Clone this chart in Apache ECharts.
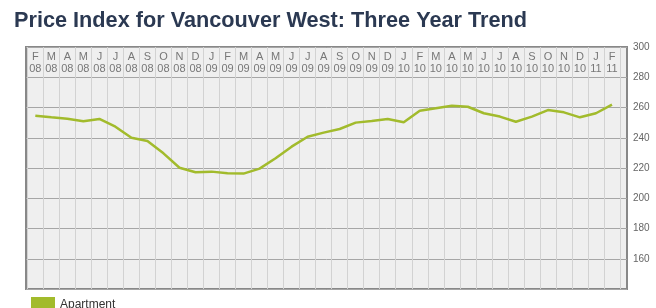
<!DOCTYPE html>
<html>
<head>
<meta charset="utf-8">
<script src="https://cdn.jsdelivr.net/npm/echarts@6/dist/echarts.min.js"></script>
<style>
html,body{margin:0;padding:0;background:#fff;}
#chart{width:656px;height:308px;}
</style>
</head>
<body>
<div id="chart"></div>
<script>
var months = ['F\n08','M\n08','A\n08','M\n08','J\n08','J\n08','A\n08','S\n08','O\n08','N\n08','D\n08',
  'J\n09','F\n09','M\n09','A\n09','M\n09','J\n09','J\n09','A\n09','S\n09','O\n09','N\n09','D\n09',
  'J\n10','F\n10','M\n10','A\n10','M\n10','J\n10','J\n10','A\n10','S\n10','O\n10','N\n10','D\n10',
  'J\n11','F\n11'];
var apartment = [254.6,253.5,252.6,250.9,252.4,247.3,240.0,237.8,229.7,220.2,217.2,
  217.6,216.5,216.3,219.6,226.4,234.1,240.7,243.4,245.8,250.0,251.1,252.4,
  250.2,257.9,259.5,261.2,260.5,256.2,254.0,250.6,254.0,258.3,256.8,253.5,
  256.2,261.9];
var yMin = 140, yMax = 300, yStep = 20;
var yLabels = ['160','180','200','220','240','260','280','300'];

var chart = echarts.init(document.getElementById('chart'));
chart.setOption({
  animation: false,
  title: {
    text: 'Price Index for Vancouver West: Three Year Trend',
    left: 9, top: 5,
    textStyle: {fontFamily: 'Liberation Sans, Arial, sans-serif', fontSize: 21.7, fontWeight: 'bold', color: '#2b3952'}
  },
  legend: {
    left: 26, top: 292, itemGap: 8, itemWidth: 24, itemHeight: 16,
    icon: 'rect',
    textStyle: {fontFamily: 'Liberation Sans, Arial, sans-serif', fontSize: 12, color: '#333'},
    data: ['Apartment']
  },
  grid: [
    {left: 26, top: 47, width: 601, height: 242, show: true, backgroundColor: '#efefef', borderColor: '#888', borderWidth: 2},
    {left: 27.3, top: 47, width: 592.7, height: 242, show: false}
  ],
  xAxis: [
    {gridIndex: 0, type: 'value', min: 0, max: 1, show: false},
    {gridIndex: 1, type: 'category', data: months, boundaryGap: true, position: 'top',
      axisLine: {show: false}, axisTick: {show: false},
      axisLabel: {inside: true, interval: 0, margin: 4, verticalAlign: 'top', lineHeight: 12,
        fontFamily: 'Liberation Sans, Arial, sans-serif', fontSize: 11, color: '#777'},
      splitLine: {show: true, interval: 0, lineStyle: {color: '#d2d2d2', width: 1}}
    }
  ],
  yAxis: [
    {gridIndex: 0, type: 'value', min: yMin, max: yMax, interval: yStep, position: 'right',
      axisLine: {show: false}, axisTick: {show: false},
      axisLabel: {margin: 6, padding: [4,0,0,0], fontFamily: 'Liberation Sans, Arial, sans-serif', fontSize: 10, color: '#666',
        formatter: function (v) { var s = String(v); return yLabels.indexOf(s) >= 0 ? s : ''; }},
      splitLine: {show: true, lineStyle: {color: '#a6a6a6', width: 1}}
    },
    {gridIndex: 1, type: 'value', min: yMin, max: yMax, show: false, splitLine: {show: false}}
  ],
  series: [{
    name: 'Apartment', type: 'line', xAxisIndex: 1, yAxisIndex: 1,
    data: apartment, symbol: 'none', smooth: false,
    color: '#a2bb2c',
    lineStyle: {color: '#a2bb2c', width: 2.5}
  }]
});
</script>
</body>
</html>
